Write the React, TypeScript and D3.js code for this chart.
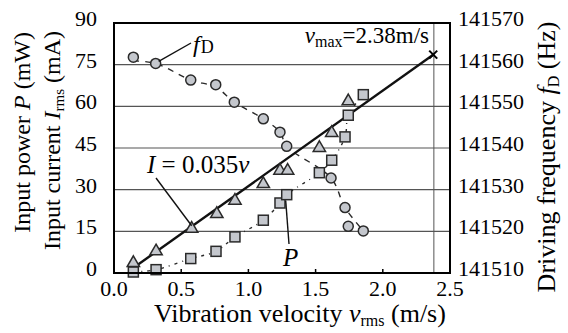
import React from "react";
import * as d3 from "d3";

// Data
const fV = [0.144, 0.31, 0.571, 0.757, 0.895, 1.111, 1.235, 1.285, 1.615, 1.719, 1.743, 1.855];
const fHz = [141561.8, 141560.3, 141556.3, 141555.2, 141551.0, 141547.0, 141543.8, 141540.4, 141532.8, 141525.7, 141521.2, 141520.1];
const fFitV = [0.144, 0.31, 0.571, 0.757, 0.895, 1.111, 1.235, 1.285, 1.615, 1.719, 1.855];
const fFitHz = [141560.9, 141560.3, 141556.3, 141554.6, 141551.0, 141547.0, 141543.8, 141540.4, 141532.8, 141525.7, 141520.1];

const iV = [0.144, 0.313, 0.578, 0.765, 0.9, 1.111, 1.235, 1.292, 1.528, 1.62, 1.743];
const iMA = [3.96, 8.17, 16.3, 21.6, 26.4, 32.4, 37.2, 37.2, 45.4, 50.8, 62.2];

const pV = [0.144, 0.313, 0.571, 0.759, 0.9, 1.111, 1.235, 1.285, 1.528, 1.62, 1.719, 1.743, 1.855];
const pMW = [0.36, 1.2, 5.2, 7.8, 13.0, 19.0, 25.2, 28.2, 36.1, 40.6, 49.0, 56.8, 64.2];

const fitLineV = [0.14, 2.375];
const fitLineI = [1.7, 78.6];
const vMax = 2.38;

const xTicks = [0, 0.5, 1.0, 1.5, 2.0, 2.5];
const yLeftTicks = [0, 15, 30, 45, 60, 75, 90];
const yRightTicks = [141510, 141520, 141530, 141540, 141550, 141560, 141570];

const TS = { fontFamily: "Liberation Serif" };
const FILL = "#c4c7cd";
const STROKE = "#2a2a2a";

export default function App() {
  const left = 114, right = 450, top = 23, bottom = 273;
  const x = d3.scaleLinear().domain([0, 2.5]).range([left, right]);
  const yL = d3.scaleLinear().domain([0, 90]).range([bottom, top]);
  const yR = d3.scaleLinear().domain([141510, 141570]).range([bottom, top]);

  const fLine = d3
    .line<number>()
    .x((_, i) => x(fFitV[i]))
    .y((d) => yR(d))
    .curve(d3.curveCatmullRom)(fFitHz) as string;
  const pLine = d3
    .line<number>()
    .x((_, i) => x(pV[i]))
    .y((d) => yL(d))
    .curve(d3.curveCatmullRom)(pMW) as string;
  const iLine = d3
    .line<number>()
    .x((_, i) => x(fitLineV[i]))
    .y((d) => yL(d))(fitLineI) as string;

  const tri = d3.symbol().type(d3.symbolTriangle).size(66)() as string;

  const fs = 22;
  const ts = 26;

  return (
    <svg
      width={568}
      height={333}
      fontFamily="Liberation Serif"
      style={{ position: "absolute", left: 0, top: 0, background: "#fff", fontFamily: "Liberation Serif" }}
    >
      {/* grid lines */}
      {yLeftTicks.slice(1, -1).map((t) => (
        <line key={t} x1={left} x2={right} y1={yL(t)} y2={yL(t)} stroke="#555" strokeWidth={1.2} />
      ))}
      <line x1={x(vMax)} x2={x(vMax)} y1={top} y2={bottom} stroke="#555" strokeWidth={1} />
      {/* x ticks */}
      {xTicks.slice(1, -1).map((t) => (
        <line key={t} x1={x(t)} x2={x(t)} y1={bottom} y2={bottom - 4} stroke="#000" strokeWidth={1.5} />
      ))}

      {/* lines */}
      <path d={fLine} fill="none" stroke={STROKE} strokeWidth={1.4} strokeDasharray="6,6" />
      <path d={pLine} fill="none" stroke={STROKE} strokeWidth={1.4} strokeDasharray="3,5,1,5" />
      <path d={iLine} fill="none" stroke="#111" strokeWidth={2.4} />

      {/* markers */}
      {pV.map((v, i) => (
        <rect key={"p" + i} x={x(v) - 5} y={yL(pMW[i]) - 5} width={10} height={10} fill={FILL} stroke={STROKE} strokeWidth={1.5} />
      ))}
      {iV.map((v, i) => (
        <path key={"i" + i} d={tri} transform={`translate(${x(v)},${yL(iMA[i]) + 1})`} fill={FILL} stroke={STROKE} strokeWidth={1.5} />
      ))}
      {fV.map((v, i) => (
        <circle key={"f" + i} cx={x(v)} cy={yR(fHz[i])} r={5} fill={FILL} stroke={STROKE} strokeWidth={1.5} />
      ))}
      {/* v_max cross */}
      <g transform={`translate(${x(fitLineV[1])},${yL(fitLineI[1])})`} stroke="#000" strokeWidth={2}>
        <line x1={-4} y1={-4} x2={4} y2={4} />
        <line x1={-4} y1={4} x2={4} y2={-4} />
      </g>

      {/* frame */}
      <rect x={left} y={top} width={right - left} height={bottom - top} fill="none" stroke="#000" strokeWidth={2} />

      {/* annotations */}
      <line x1={x(fV[1]) + 3} y1={yR(fHz[1]) - 2} x2={191} y2={43} stroke="#111" strokeWidth={1.4} />
      <text x={193} y={52} fontSize={24} style={TS}>
        <tspan fontStyle="italic">f</tspan>
        <tspan fontSize={18} dx={1} dy={1}>D</tspan>
      </text>

      <line x1={156} y1={178} x2={x(iV[2])} y2={yL(iMA[2]) - 2} stroke="#111" strokeWidth={1.4} />
      <text x={147} y={172.5} fontSize={25} style={TS}>
        <tspan fontStyle="italic">I</tspan>
        <tspan> = 0.035</tspan>
        <tspan fontStyle="italic">v</tspan>
      </text>

      <line x1={x(pV[7]) - 1} y1={yL(pMW[7]) + 6} x2={289} y2={244} stroke="#111" strokeWidth={1.4} />
      <text x={283} y={266} fontSize={25} fontStyle="italic" style={TS}>P</text>

      <text x={429} y={43} fontSize={23} textAnchor="end" style={TS}>
        <tspan fontStyle="italic">v</tspan>
        <tspan fontSize={16} dy={4}>max</tspan>
        <tspan dy={-4}>=2.38m/s</tspan>
      </text>

      {/* left tick labels */}
      {yLeftTicks.map((t) => (
        <text key={t} x={97} y={yL(t) + 3} fontSize={fs} textAnchor="end" style={TS}>{t}</text>
      ))}
      {/* right tick labels */}
      {yRightTicks.map((t) => (
        <text key={t} x={458} y={yR(t) + 3} fontSize={fs} style={TS}>{t}</text>
      ))}
      {/* x tick labels */}
      {xTicks.map((t) => (
        <text key={t} x={x(t)} y={296} fontSize={fs} textAnchor="middle" style={TS}>{t.toFixed(1)}</text>
      ))}

      {/* axis titles */}
      <text x={300} y={322} fontSize={ts} textAnchor="middle" style={TS}>
        Vibration velocity <tspan fontStyle="italic">v</tspan>
        <tspan fontSize={16} dy={4}>rms</tspan>
        <tspan dy={-4}> (m/s)</tspan>
      </text>
      <text transform="translate(30,32) rotate(-90)" fontSize={24} textAnchor="end" style={TS}>
        Input power <tspan fontStyle="italic">P</tspan> (mW)
      </text>
      <text transform="translate(60,31) rotate(-90)" fontSize={24} textAnchor="end" style={TS}>
        Input current <tspan fontStyle="italic">I</tspan>
        <tspan fontSize={15} dy={4}>rms</tspan>
        <tspan dy={-4}> (mA)</tspan>
      </text>
      <text transform="translate(555,157) rotate(-90)" fontSize={ts} textAnchor="middle" style={TS}>
        Driving frequency <tspan fontStyle="italic">f</tspan>
        <tspan fontSize={16} dy={4}>D</tspan>
        <tspan dy={-4}> (Hz)</tspan>
      </text>
    </svg>
  );
}
